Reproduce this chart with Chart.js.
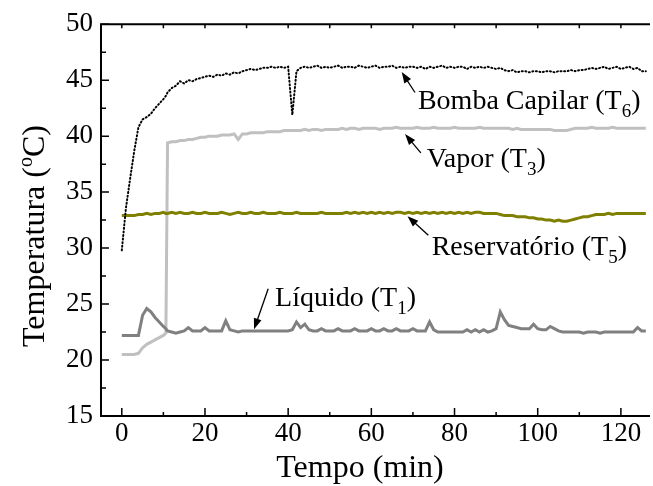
<!DOCTYPE html>
<html>
<head>
<meta charset="utf-8">
<script src="https://cdn.jsdelivr.net/npm/chart.js@4.4.1/dist/chart.umd.min.js"></script>
<style>
  html, body { margin: 0; padding: 0; background: #fff; }
</style>
</head>
<body>
<canvas id="grafico" width="653" height="486"></canvas>
<script>
// tempo em minutos (eixo x)
const tempo = [
  0, 1, 2, 3, 4, 5, 6, 7, 8, 9,
  10, 10.6, 11, 12, 13, 14, 15, 16, 17, 18, 19,
  20, 21, 22, 23, 24, 25, 26, 27, 28, 29,
  30, 31, 32, 33, 34, 35, 36, 37, 38, 39,
  40, 41, 42, 43, 44, 45, 46, 47, 48, 49,
  50, 51, 52, 53, 54, 55, 56, 57, 58, 59,
  60, 61, 62, 63, 64, 65, 66, 67, 68, 69,
  70, 71, 72, 73, 74, 75, 76, 77, 78, 79,
  80, 81, 82, 83, 84, 85, 86, 87, 88, 89,
  90, 91, 92, 93, 94, 95, 96, 97, 98, 99,
  100, 101, 102, 103, 104, 105, 106, 107, 108, 109,
  110, 111, 112, 113, 114, 115, 116, 117, 118, 119,
  120, 121, 122, 123, 124, 125, 126
]

// Bomba Capilar (T6)
const bomba = [
  29.8, 33.6, 36.2, 38.7, 40.8, 41.5, 41.7, 42.0, 42.5, 42.9,
  43.3, 43.6, 43.9, 44.3, 44.5, 44.9, 44.7, 45.0, 44.9, 45.1, 45.2,
  45.3, 45.4, 45.3, 45.5, 45.4, 45.6, 45.5, 45.7, 45.6, 45.8,
  45.9, 46.0, 45.9, 46.0, 46.1, 46.1, 46.2, 46.1, 46.2, 46.1,
  46.2, 41.9, 45.8, 46.1, 46.2, 46.1, 46.2, 46.3, 46.1, 46.2,
  46.1, 46.2, 46.3, 46.1, 46.2, 46.2, 46.1, 46.3, 46.2, 46.1,
  46.2, 46.3, 46.1, 46.2, 46.2, 46.3, 46.1, 46.2, 46.1, 46.2,
  46.2, 46.1, 46.2, 46.0, 46.2, 46.1, 46.2, 46.3, 46.1, 46.2,
  46.1, 46.2, 46.2, 46.0, 46.2, 46.1, 46.2, 46.1, 46.2, 46.1,
  46.0, 46.1, 45.9, 45.8, 45.9, 45.7, 45.8, 45.8, 45.7, 45.8,
  45.8, 45.7, 45.8, 45.8, 45.7, 45.8, 45.8, 45.8, 45.9, 45.8,
  45.9, 45.9, 46.0, 46.1, 46.0, 46.1, 46.2, 46.0, 46.1, 46.2,
  46.0, 46.1, 46.2, 46.0, 46.1, 45.8, 45.8
]

// Vapor (T3)
const vapor = [
  20.5, 20.5, 20.5, 20.5, 20.6, 21.1, 21.4, 21.6, 21.8, 22.0,
  22.2, 22.4, 39.4, 39.5, 39.5, 39.6, 39.6, 39.7, 39.7, 39.8, 39.9,
  39.9, 40.0, 40.0, 40.0, 40.1, 40.1, 40.1, 40.2, 39.7, 40.2,
  40.2, 40.3, 40.3, 40.3, 40.3, 40.4, 40.4, 40.4, 40.4, 40.5,
  40.5, 40.5, 40.5, 40.5, 40.6, 40.5, 40.6, 40.6, 40.5, 40.6,
  40.6, 40.6, 40.6, 40.7, 40.6, 40.7, 40.7, 40.6, 40.7, 40.7,
  40.7, 40.7, 40.6, 40.7, 40.7, 40.7, 40.8, 40.7, 40.7, 40.7,
  40.7, 40.8, 40.7, 40.7, 40.7, 40.8, 40.7, 40.7, 40.7, 40.7,
  40.8, 40.7, 40.7, 40.7, 40.7, 40.7, 40.8, 40.7, 40.7, 40.7,
  40.7, 40.7, 40.7, 40.7, 40.6, 40.7, 40.6, 40.6, 40.6, 40.6,
  40.6, 40.6, 40.6, 40.6, 40.5, 40.5, 40.5, 40.5, 40.6, 40.7,
  40.7, 40.7, 40.7, 40.8, 40.7, 40.7, 40.7, 40.7, 40.8, 40.7,
  40.7, 40.7, 40.7, 40.7, 40.7, 40.7, 40.7
]

// Reservatório (T5)
const reservatorio = [
  32.9, 32.9, 32.9, 32.9, 33.0, 33.0, 33.1, 33.0, 33.1, 33.1,
  33.2, 33.1, 33.1, 33.2, 33.1, 33.2, 33.1, 33.1, 33.2, 33.1, 33.1,
  33.2, 33.1, 33.1, 33.1, 33.2, 33.1, 33.0, 33.1, 33.2, 33.1,
  33.1, 33.2, 33.1, 33.1, 33.2, 33.1, 33.1, 33.1, 33.2, 33.1,
  33.1, 33.1, 33.2, 33.1, 33.1, 33.1, 33.1, 33.1, 33.2, 33.1,
  33.1, 33.1, 33.1, 33.1, 33.2, 33.1, 33.2, 33.1, 33.2, 33.1,
  33.2, 33.1, 33.2, 33.1, 33.2, 33.1, 33.2, 33.2, 33.1, 33.2,
  33.1, 33.2, 33.1, 33.2, 33.1, 33.2, 33.1, 33.2, 33.1, 33.2,
  33.1, 33.2, 33.1, 33.2, 33.1, 33.2, 33.2, 33.1, 33.1, 33.1,
  33.1, 33.0, 32.9, 32.9, 32.9, 32.8, 32.8, 32.8, 32.7, 32.7,
  32.6, 32.6, 32.5, 32.5, 32.4, 32.5, 32.4, 32.4, 32.5, 32.6,
  32.7, 32.8, 32.8, 32.9, 33.0, 33.0, 33.0, 33.1, 33.0, 33.1,
  33.1, 33.1, 33.1, 33.1, 33.1, 33.1, 33.1
]

// Líquido (T1)
const liquido = [
  22.2, 22.2, 22.2, 22.2, 22.2, 24.0, 24.6, 24.3, 23.8, 23.4,
  23.0, 22.8, 22.6, 22.5, 22.4, 22.5, 22.6, 22.9, 22.6, 22.6, 22.6,
  22.9, 22.6, 22.6, 22.6, 22.6, 23.5, 22.7, 22.6, 22.5, 22.6,
  22.6, 22.6, 22.6, 22.6, 22.6, 22.6, 22.6, 22.6, 22.6, 22.6,
  22.6, 22.7, 23.4, 22.9, 23.2, 22.7, 22.6, 22.6, 22.8, 22.6,
  22.6, 22.6, 22.8, 22.6, 22.6, 22.6, 22.8, 22.6, 22.6, 22.6,
  22.8, 22.6, 22.6, 22.8, 22.6, 22.6, 22.8, 22.6, 22.6, 22.6,
  22.8, 22.6, 22.6, 22.6, 23.4, 22.7, 22.5, 22.5, 22.5, 22.5,
  22.5, 22.5, 22.5, 22.7, 22.5, 22.7, 22.5, 22.7, 22.5, 22.6,
  22.8, 24.3, 23.6, 23.1, 23.0, 22.9, 22.8, 22.8, 22.8, 23.2,
  22.8, 22.7, 22.7, 23.0, 22.8, 22.6, 22.5, 22.5, 22.5, 22.5,
  22.5, 22.4, 22.5, 22.5, 22.5, 22.4, 22.5, 22.5, 22.5, 22.5,
  22.5, 22.5, 22.5, 22.5, 22.9, 22.6, 22.6
]

const ticksX = [0, 20, 40, 60, 80, 100, 120]
const ticksY = [15, 20, 25, 30, 35, 40, 45, 50]

const fonte = '"Liberation Serif", "Times New Roman", serif'

// rotulos com seta: texto em (x, y), seta da cauda ate a ponta (coordenadas dos dados)
const rotulos = [
  { texto: 'Bomba Capilar (T', sub: '6', x: 71.2, y: 42.4, cauda: [70.5, 43.9], ponta: [67.3, 45.73] },
  { texto: 'Vapor (T', sub: '3', x: 73.3, y: 37.2, cauda: [71.9, 38.5], ponta: [68.1, 40.19] },
  { texto: 'Reservatório (T', sub: '5', x: 74.5, y: 29.37, cauda: [73.7, 31.14], ponta: [68.7, 32.85] },
  { texto: 'Líquido (T', sub: '1', x: 36.85, y: 24.8, cauda: [35.2, 26.37], ponta: [31.8, 22.74] }
]

function pontos(serie) {
  return tempo.map((t, i) => ({ x: t, y: serie[i] }))
}

function seta(ctx, x1, y1, x2, y2) {
  const ang = Math.atan2(y2 - y1, x2 - x1)
  ctx.beginPath()
  ctx.moveTo(x1, y1)
  ctx.lineTo(x2 - Math.cos(ang) * 6, y2 - Math.sin(ang) * 6)
  ctx.stroke()
  ctx.beginPath()
  ctx.moveTo(x2, y2)
  ctx.lineTo(x2 - Math.cos(ang) * 11 + Math.sin(ang) * 4, y2 - Math.sin(ang) * 11 - Math.cos(ang) * 4)
  ctx.lineTo(x2 - Math.cos(ang) * 11 - Math.sin(ang) * 4, y2 - Math.sin(ang) * 11 + Math.cos(ang) * 4)
  ctx.closePath()
  ctx.fill()
}

const eixos = {
  id: 'eixos',
  afterDraw(chart) {
    const { ctx, chartArea: a, scales: { x, y } } = chart
    ctx.save()
    ctx.strokeStyle = '#000'
    ctx.fillStyle = '#000'
    ctx.lineWidth = 2
    ctx.beginPath()
    ctx.moveTo(a.right, a.top)
    ctx.lineTo(a.left, a.top)
    ctx.lineTo(a.left, a.bottom)
    ctx.lineTo(a.right, a.bottom)
    ctx.stroke()

    // marcas para dentro
    ctx.lineWidth = 1.5
    ctx.beginPath()
    for (let v = 0; v <= 120; v += 10) {
      const px = x.getPixelForValue(v)
      ctx.moveTo(px, a.bottom)
      ctx.lineTo(px, a.bottom - (v % 20 === 0 ? 8 : 4))
      ctx.moveTo(px, a.top)
      ctx.lineTo(px, a.top + 4)
    }
    for (let v = 15; v <= 50; v += 2.5) {
      const py = y.getPixelForValue(v)
      ctx.moveTo(a.left, py)
      ctx.lineTo(a.left + (v % 5 === 0 ? 8 : 5), py)
    }
    ctx.stroke()

    // titulo do eixo x
    ctx.font = '32px ' + fonte
    ctx.textAlign = 'center'
    ctx.textBaseline = 'alphabetic'
    ctx.fillText('Tempo (min)', 360, 477)

    // titulo do eixo y com o sobrescrito
    ctx.save()
    ctx.translate(33, 236)
    ctx.rotate(-Math.PI / 2)
    ctx.textAlign = 'left'
    ctx.font = '32px ' + fonte
    const p1 = 'Temperatura ('
    const w1 = ctx.measureText(p1).width
    const w3 = ctx.measureText('C)').width
    ctx.font = '20px ' + fonte
    const w2 = ctx.measureText('o').width
    let x0 = -(w1 + w2 + w3) / 2
    ctx.font = '32px ' + fonte
    ctx.fillText(p1, x0, 11)
    ctx.font = '20px ' + fonte
    ctx.fillText('o', x0 + w1, -1)
    ctx.font = '32px ' + fonte
    ctx.fillText('C)', x0 + w1 + w2, 11)
    ctx.restore()

    // rotulos das curvas
    ctx.lineWidth = 1.3
    ctx.textAlign = 'left'
    rotulos.forEach(r => {
      seta(ctx, x.getPixelForValue(r.cauda[0]), y.getPixelForValue(r.cauda[1]),
        x.getPixelForValue(r.ponta[0]), y.getPixelForValue(r.ponta[1]))
      const tx = x.getPixelForValue(r.x)
      const ty = y.getPixelForValue(r.y)
      ctx.font = '28px ' + fonte
      ctx.fillText(r.texto, tx, ty)
      const w = ctx.measureText(r.texto).width
      ctx.font = '19px ' + fonte
      ctx.fillText(r.sub, tx + w, ty + 8)
      const ws = ctx.measureText(r.sub).width
      ctx.font = '28px ' + fonte
      ctx.fillText(')', tx + w + ws, ty)
    })
    ctx.restore()
  }
}

new Chart(document.getElementById('grafico'), {
  type: 'line',
  data: {
    datasets: [
      {
        label: 'Bomba Capilar (T6)',
        data: pontos(bomba),
        borderColor: '#000',
        borderWidth: 2,
        borderDash: [1, 2.6],
        borderCapStyle: 'round',
        order: 0
      },
      {
        label: 'Reservatório (T5)',
        data: pontos(reservatorio),
        borderColor: '#808000',
        borderWidth: 3,
        order: 1
      },
      {
        label: 'Líquido (T1)',
        data: pontos(liquido),
        borderColor: '#808080',
        borderWidth: 3,
        order: 2
      },
      {
        label: 'Vapor (T3)',
        data: pontos(vapor),
        borderColor: '#c0c0c0',
        borderWidth: 3,
        order: 3
      }
    ]
  },
  options: {
    responsive: false,
    animation: false,
    layout: { padding: { top: 20, right: 3, left: 0, bottom: 0 } },
    plugins: { legend: { display: false }, tooltip: { enabled: false } },
    elements: { point: { radius: 0 }, line: { tension: 0 } },
    scales: {
      x: {
        type: 'linear',
        min: -5,
        max: 127,
        grid: { display: false, drawTicks: false },
        border: { display: false },
        afterBuildTicks: s => { s.ticks = ticksX.map(v => ({ value: v })) },
        afterFit: s => { s.height = 70 },
        ticks: { color: '#000', font: { family: fonte, size: 27 }, padding: 2, maxRotation: 0, autoSkip: false }
      },
      y: {
        type: 'linear',
        min: 15,
        max: 50,
        grid: { display: false, drawTicks: false },
        border: { display: false },
        afterBuildTicks: s => { s.ticks = ticksY.map(v => ({ value: v })) },
        afterFit: s => { s.width = 101 },
        ticks: { color: '#000', font: { family: fonte, size: 27 }, padding: 8, autoSkip: false }
      }
    }
  },
  plugins: [eixos]
})
</script>
</body>
</html>
